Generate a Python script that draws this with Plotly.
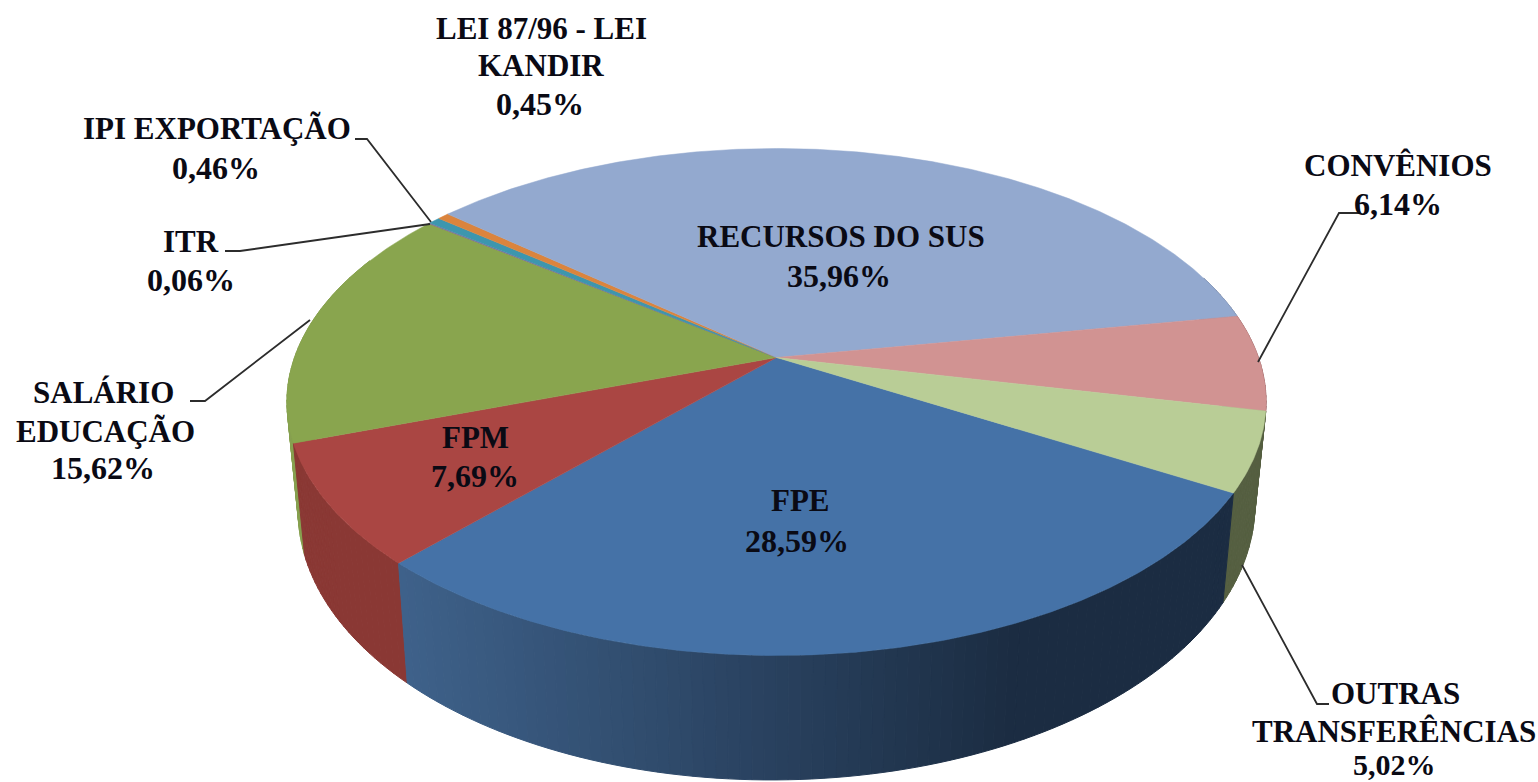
import math
import plotly.graph_objects as go

# Data, in chart order (clockwise)
categories = ["FPE", "FPM", "SALÁRIO EDUCAÇÃO", "ITR", "IPI EXPORTAÇÃO", "LEI 87/96 - LEI KANDIR",
              "RECURSOS DO SUS", "CONVÊNIOS", "OUTRAS TRANSFERÊNCIAS"]
values = [28.59, 7.69, 15.62, 0.06, 0.46, 0.45, 35.96, 6.14, 5.02]
top_colors = ["#4572A7", "#AA4643", "#89A54E", "#80699B", "#3D96AE", "#DB843D", "#93A9CF", "#D19392", "#B9CD96"]
wall_left = [(62, 97, 138), (138, 56, 52), (135, 160, 80), (100, 80, 125), (48, 120, 140), (170, 100, 45),
             (115, 130, 160), (160, 110, 110), (85, 95, 65)]
wall_right = [(27, 44, 66), (132, 54, 50), (135, 160, 80), (100, 80, 125), (48, 120, 140), (170, 100, 45),
              (115, 130, 160), (160, 110, 110), (85, 95, 65)]
label_lines = [["FPE"], ["FPM"], ["SALÁRIO", "EDUCAÇÃO"], ["ITR"], ["IPI EXPORTAÇÃO"], ["LEI 87/96 - LEI", "KANDIR"],
               ["RECURSOS DO SUS"], ["CONVÊNIOS"], ["OUTRAS", "TRANSFERÊNCIAS"]]

# Layout of the perspective disc
CX, CY, R, K, P = 776.5, 357.5, 482, 245.7, 0.1755
START = 120.2
BX, BY0, BY, TILT = 0.977, 460, 1.0736, -0.006
label_pos = [
    [(800, 500), (797, 541)],
    [(475, 437), (475, 476)],
    [(103, 392), (105, 431), (103, 468)],
    [(191, 241), (191, 280)],
    [(217, 128), (216, 168)],
    [(541, 28), (541, 65), (540, 104)],
    [(841, 236), (839, 276)],
    [(1398, 165), (1398, 204)],
    [(1395, 693), (1394, 731), (1394, 764)],
]
leaders = [
    [(355, 139), (367, 139), (431, 222)],
    [(225, 251), (240, 251), (430, 224)],
    [(190, 401), (205, 401), (310, 320)],
    [(1360, 213), (1339, 213), (1258, 362)],
    [(1329, 704), (1317, 704), (1242, 565)],
]


def top_pt(deg):
    t = math.radians(deg)
    u, v = math.sin(t), -math.cos(t)
    s = 1 / (1 - P * v)
    return CX + R * u * s, CY + K * v * s


def bot_pt(deg):
    x, y = top_pt(deg)
    return CX + BX * (x - CX), BY0 + BY * (y - CY) + TILT * (x - CX)


def arange(a, b, step):
    n = max(1, int(math.ceil((b - a) / step)))
    return [a + (b - a) * i / n for i in range(n + 1)]


fig = go.Figure()
total = sum(values)
spans = []
a = START
for val in values:
    b = a + 360 * val / total
    spans.append((a, b))
    a = b

# Side wall strips
strips = []
for i, (a, b) in enumerate(spans):
    for aa, bb in [(a, b), (a - 360, b - 360)]:
        lo, hi = max(aa, 70), min(bb, 295)
        if hi <= lo:
            continue
        ang = arange(lo, hi, 1.2)
        for p, q in zip(ang[:-1], ang[1:]):
            strips.append((i, p, q))
strips.sort(key=lambda s: -math.cos(math.radians((s[1] + s[2]) / 2)))
for i, p, q in strips:
    pts = [top_pt(p), top_pt(q), bot_pt(q), bot_pt(p)]
    mx = sum(pt[0] for pt in pts) / 4
    f = min(1, max(0, (mx - 408) / (1010 - 408)))
    c = [round(l + (r - l) * f) for l, r in zip(wall_left[i], wall_right[i])]
    col = f"rgb({c[0]},{c[1]},{c[2]})"
    fig.add_trace(go.Scatter(x=[pt[0] for pt in pts] + [pts[0][0]], y=[pt[1] for pt in pts] + [pts[0][1]],
                             mode="lines", fill="toself", fillcolor=col, line=dict(color=col, width=1),
                             hoverinfo="skip", showlegend=False))

# Top face
for i, (a, b) in enumerate(spans):
    pts = [(CX, CY)] + [top_pt(d) for d in arange(a, b, 0.5)]
    fig.add_trace(go.Scatter(x=[pt[0] for pt in pts] + [CX], y=[pt[1] for pt in pts] + [CY],
                             mode="lines", fill="toself", fillcolor=top_colors[i],
                             line=dict(color=top_colors[i], width=0.5),
                             name=categories[i], hoverinfo="name", showlegend=False))

# Leader lines
for ld in leaders:
    fig.add_trace(go.Scatter(x=[p[0] for p in ld], y=[p[1] for p in ld], mode="lines",
                             line=dict(color="#2c2c2c", width=1.8), hoverinfo="skip", showlegend=False))

# Labels
for i, val in enumerate(values):
    lines = label_lines[i] + [f"{val:.2f}".replace(".", ",") + "%"]
    sizes = [31] * len(label_lines[i]) + [32]
    if categories[i] == "OUTRAS TRANSFERÊNCIAS":
        sizes[-1] = 30
    for text, (x, y), sz in zip(lines, label_pos[i], sizes):
        fig.add_annotation(x=x, y=y, text=f"<b>{text}</b>", showarrow=False, xanchor="center", yanchor="middle",
                           font=dict(family="Liberation Serif", size=sz, color="#0a0a14"))

fig.update_layout(width=1538, height=782, margin=dict(l=0, r=0, t=0, b=0), paper_bgcolor="white",
                  plot_bgcolor="white", showlegend=False,
                  xaxis=dict(range=[0, 1538], visible=False, fixedrange=True),
                  yaxis=dict(range=[782, 0], visible=False, fixedrange=True))
fig.write_html("out.html", config={"displayModeBar": False},
               post_script="document.body.style.margin='0';document.body.style.overflow='hidden';")
